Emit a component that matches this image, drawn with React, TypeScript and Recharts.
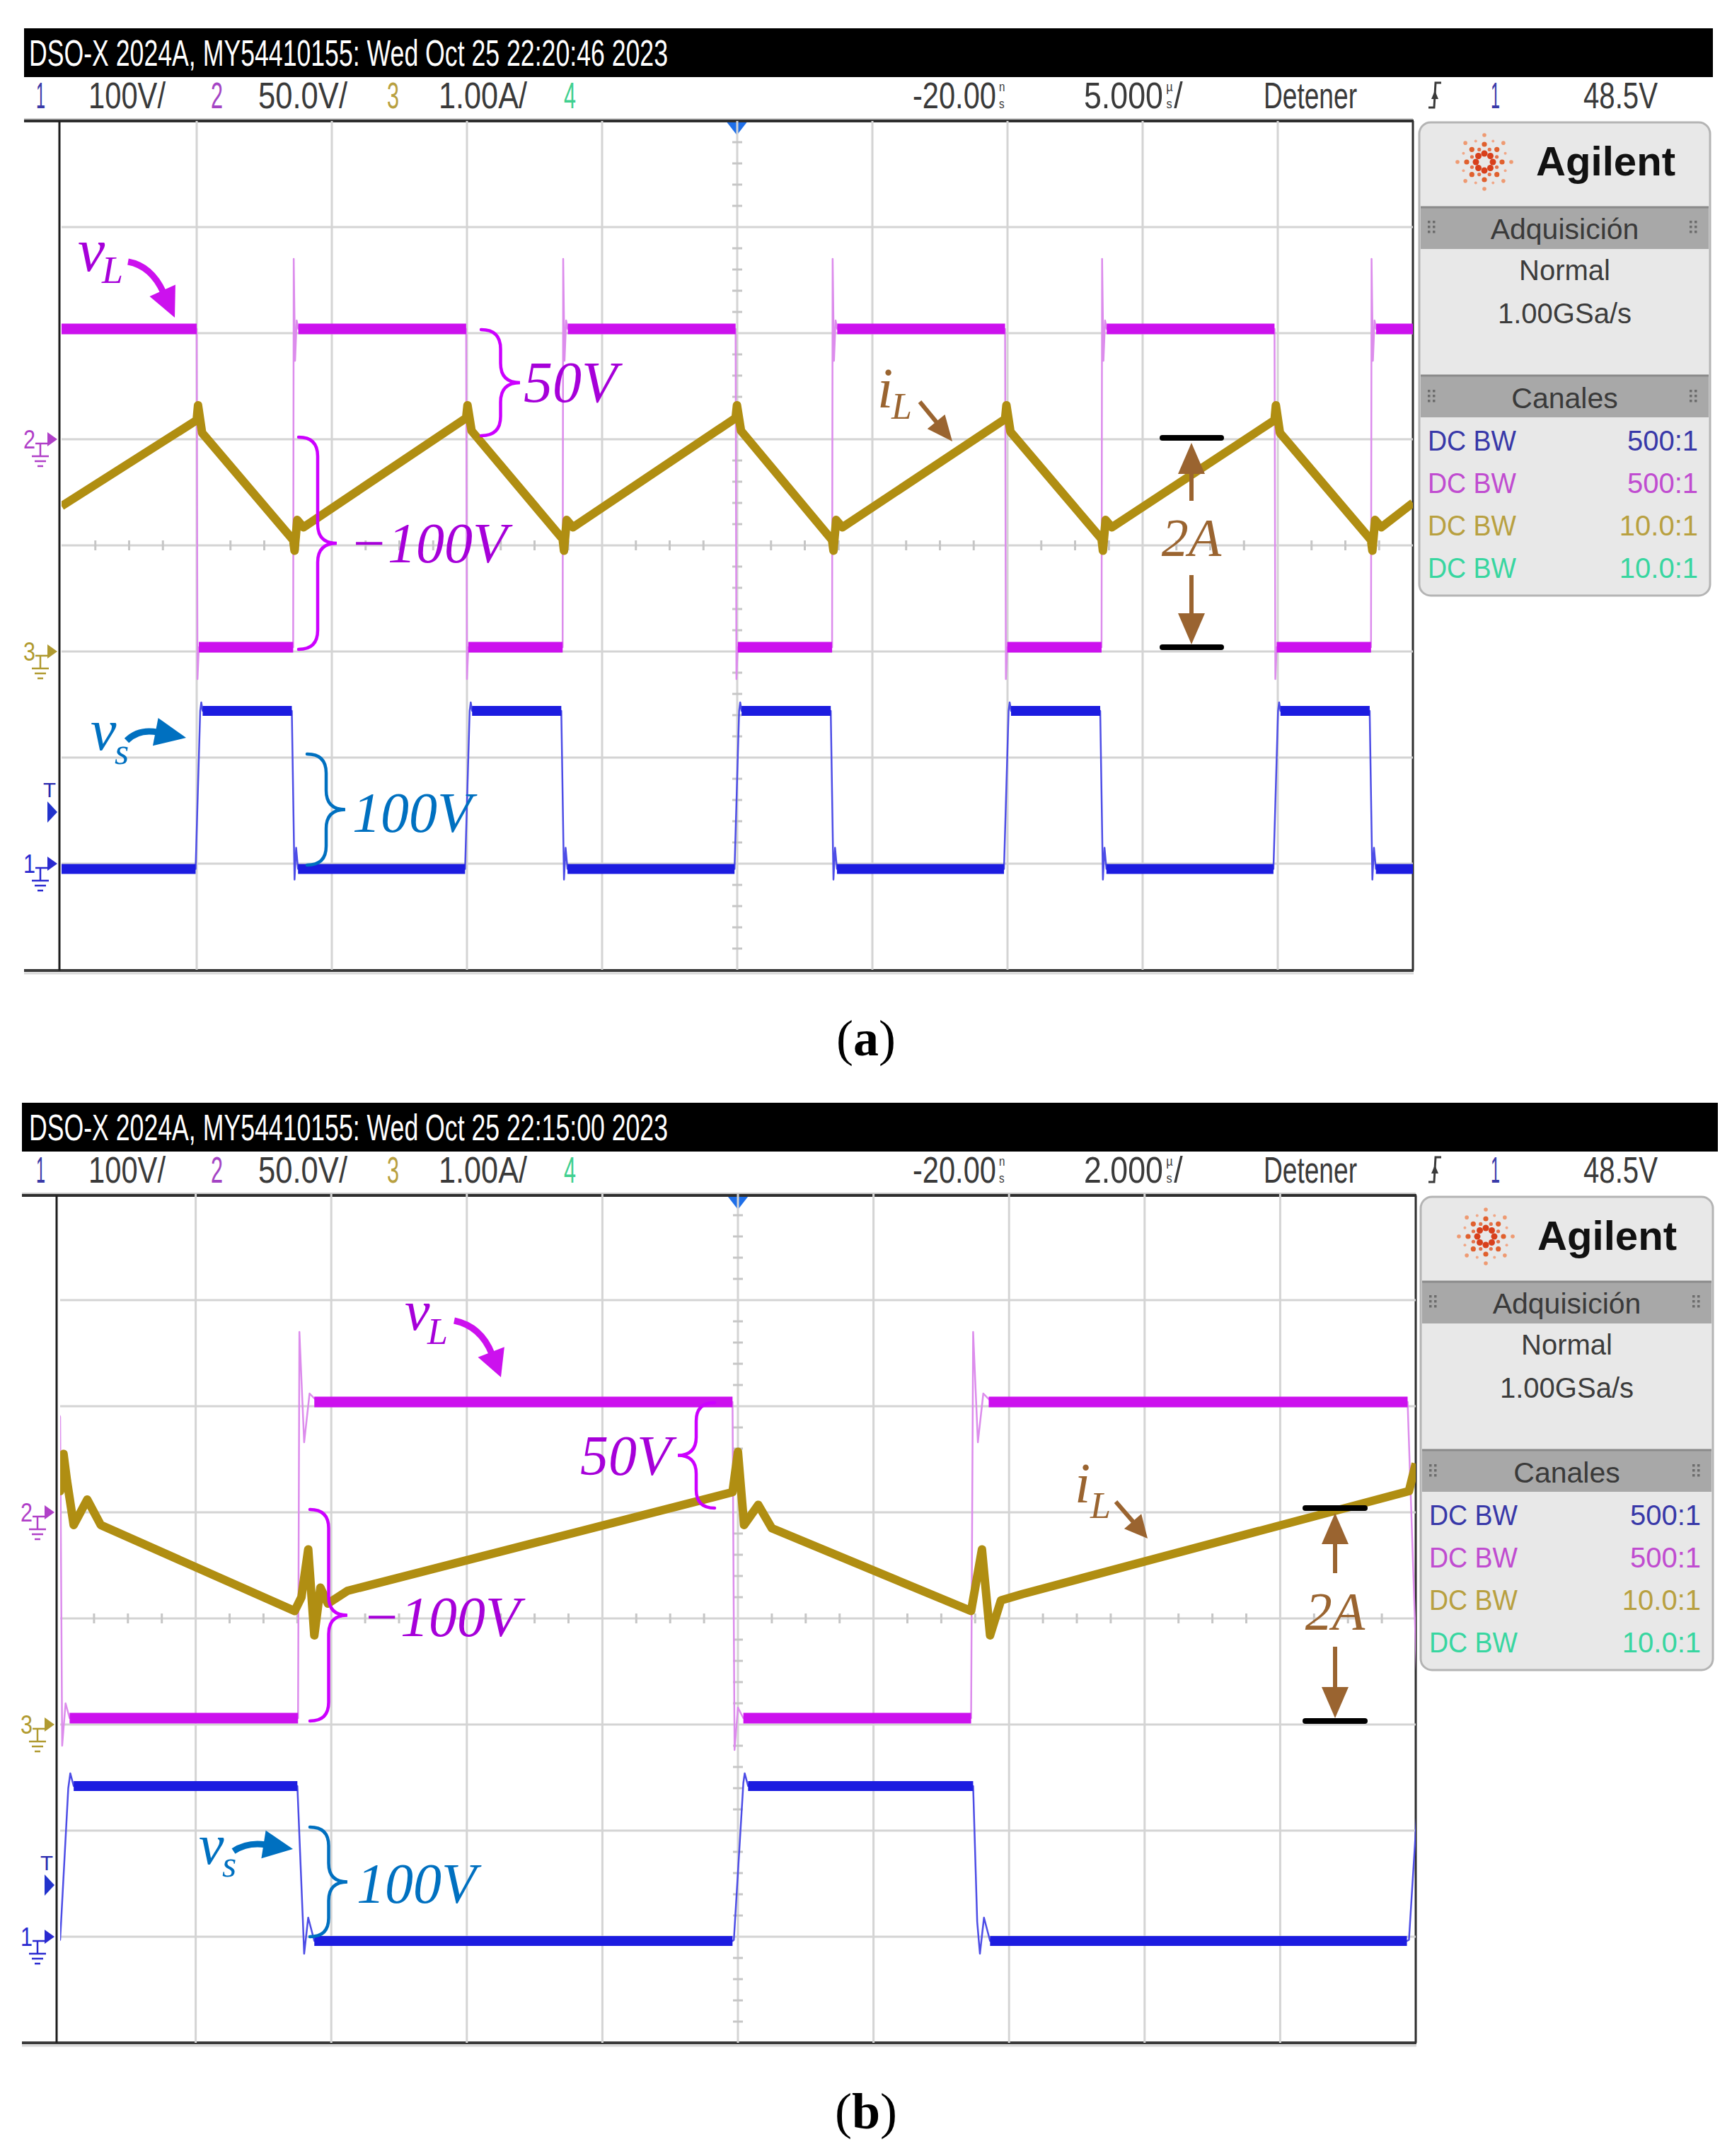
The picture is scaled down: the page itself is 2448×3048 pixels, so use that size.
import React from "react";
import { LineChart, Line, XAxis, YAxis, ReferenceLine } from "recharts";

// screen position of each channel: ground level (divisions from bottom) and units per division
// index 0 = ch1 vs (V), 1 = ch2 vL (V), 2 = ch3 iL (A)
const CH_GROUND_DIV = [1, 5, 3];
const CH_PER_DIV = [100, 50, 1];

// ---------- (a) 5 µs/div, 0..50 µs ----------
const A_VL: [number, number][] = [
  [0, 52],
  [5.0, 52], [5.03, -113], [5.08, -98], [8.57, -98], [8.59, 85], [8.64, 37], [8.7, 56], [8.76, 52],
  [14.97, 52], [15.0, -113], [15.05, -98], [18.54, -98], [18.56, 85], [18.61, 37], [18.67, 56], [18.73, 52],
  [24.94, 52], [24.97, -113], [25.02, -98], [28.51, -98], [28.53, 85], [28.58, 37], [28.64, 56], [28.7, 52],
  [34.91, 52], [34.94, -113], [34.99, -98], [38.48, -98], [38.5, 85], [38.55, 37], [38.61, 56], [38.67, 52],
  [44.88, 52], [44.91, -113], [44.96, -98], [48.45, -98], [48.47, 85], [48.52, 37], [48.58, 56], [48.64, 52],
  [50, 52],
];
const A_VL_FLAT: [number, number, number][] = [
  [0, 5.0, 52], [5.08, 8.57, -98], [8.76, 14.97, 52], [15.05, 18.54, -98], [18.73, 24.94, 52],
  [25.02, 28.51, -98], [28.7, 34.91, 52], [34.99, 38.48, -98], [38.67, 44.88, 52], [44.96, 48.45, -98],
  [48.64, 50, 52],
];
const A_VS: [number, number][] = [
  [0, -5],
  [4.96, -5], [5.13, 144], [5.17, 152], [5.22, 144], [8.52, 144], [8.62, -15], [8.68, 15], [8.75, -5],
  [14.93, -5], [15.1, 144], [15.14, 152], [15.19, 144], [18.49, 144], [18.59, -15], [18.65, 15], [18.72, -5],
  [24.9, -5], [25.07, 144], [25.11, 152], [25.16, 144], [28.46, 144], [28.56, -15], [28.62, 15], [28.69, -5],
  [34.87, -5], [35.04, 144], [35.08, 152], [35.13, 144], [38.43, 144], [38.53, -15], [38.59, 15], [38.66, -5],
  [44.84, -5], [45.01, 144], [45.05, 152], [45.1, 144], [48.4, 144], [48.5, -15], [48.56, 15], [48.63, -5],
  [50, -5],
];
const A_VS_FLAT: [number, number, number][] = [
  [0, 4.96, -5], [5.22, 8.52, 144], [8.75, 14.93, -5], [15.19, 18.49, 144], [18.72, 24.9, -5],
  [25.16, 28.46, 144], [28.69, 34.87, -5], [35.13, 38.43, 144], [38.66, 44.84, -5], [45.1, 48.4, 144],
  [48.63, 50, -5],
];
const A_IL: [number, number][] = [
  [0, 1.37],
  [5.0, 2.18], [5.05, 2.32], [5.2, 2.06], [8.57, 1.05], [8.62, 0.95], [8.72, 1.24], [8.95, 1.17],
  [14.97, 2.2], [15.02, 2.32], [15.17, 2.08], [18.54, 1.06], [18.59, 0.95], [18.69, 1.24], [18.92, 1.17],
  [24.94, 2.2], [24.99, 2.32], [25.14, 2.08], [28.51, 1.05], [28.56, 0.95], [28.66, 1.24], [28.89, 1.17],
  [34.91, 2.19], [34.96, 2.32], [35.11, 2.07], [38.48, 1.06], [38.53, 0.95], [38.63, 1.24], [38.86, 1.17],
  [44.88, 2.18], [44.93, 2.32], [45.08, 2.06], [48.45, 1.05], [48.5, 0.95], [48.6, 1.24], [48.83, 1.17],
  [50, 1.4],
];

// ---------- (b) 2 µs/div, 0..20 µs ----------
const B_VL: [number, number][] = [
  [-0.1, 52], [0.0, 45], [0.03, -110], [0.08, -90], [0.14, -97], [3.51, -97], [3.53, 85], [3.6, 33],
  [3.68, 56], [3.8, 52], [9.92, 52], [9.95, -112], [10.0, -92], [10.08, -97], [13.44, -97], [13.47, 85],
  [13.54, 33], [13.62, 56], [13.74, 52], [19.88, 52], [20.05, -110],
];
const B_VL_FLAT: [number, number, number][] = [
  [0.14, 3.51, -97], [3.75, 9.92, 52], [10.08, 13.44, -97], [13.7, 19.88, 52],
];
const B_VS: [number, number][] = [
  [-0.1, -3], [0.0, -3], [0.12, 140], [0.15, 154], [0.2, 142], [3.5, 142], [3.58, 17], [3.6, -16],
  [3.66, 18], [3.75, -4], [9.92, -4], [9.94, -3], [10.08, 145], [10.1, 154], [10.15, 142], [13.47, 142],
  [13.53, 14], [13.57, -16], [13.63, 18], [13.72, -4], [19.87, -4], [19.9, -3], [20.05, 150],
];
const B_VS_FLAT: [number, number, number][] = [
  [0.2, 3.5, 142], [3.75, 9.92, -4], [10.15, 13.47, 142], [13.72, 19.87, -4],
];
const B_IL: [number, number][] = [
  [-0.1, 2.2], [0.0, 2.2], [0.05, 2.55], [0.1, 2.3], [0.2, 1.88], [0.4, 2.12], [0.6, 1.88], [3.46, 1.07],
  [3.56, 1.2], [3.66, 1.65], [3.75, 0.84], [3.84, 1.29], [3.95, 1.14], [4.24, 1.26], [9.92, 2.19],
  [10.0, 2.57], [10.09, 1.88], [10.3, 2.07], [10.5, 1.85], [13.44, 1.07], [13.6, 1.65], [13.72, 0.84],
  [13.88, 1.17], [14.2, 1.23], [19.9, 2.2], [20.0, 2.46],
];

const CH_ROW_LABELS = ["DC BW", "DC BW", "DC BW", "DC BW"];
const CH_ROW_PROBES = ["500:1", "500:1", "10.0:1", "10.0:1"];

const toDiv = (pts: [number, number][], ch: number) =>
  pts.map(([t, v]) => ({ t, y: CH_GROUND_DIV[ch] + v / CH_PER_DIV[ch] }));

const flatRows = (segs: [number, number, number][], ch: number) =>
  segs.flatMap(([t0, t1, v]) => {
    const y = CH_GROUND_DIV[ch] + v / CH_PER_DIV[ch];
    return [{ t: t0, y }, { t: t1, y }, { t: t1, y: null }];
  });

const MAGENTA = "#cc11ee";
const MAGENTA_EDGE = "#dc8cec";
const BLUE = "#1c1ce0";
const BLUE_EDGE = "#4d4de6";
const OLIVE = "#b08e12";

const ANN_PURPLE = "#a600d9";
const ANN_BRACE = "#cc00ff";
const ANN_BLUE = "#0070c0";
const ANN_BROWN = "#9a6430";

const UI_FONT = "Liberation Sans, Arial, sans-serif";
const SERIF = "Liberation Serif, Times New Roman, serif";

interface TraceDef {
  data: { t: number; y: number | null }[];
  color: string;
  width: number;
}

function ScopeChart({ left, top, width, height, tMax, traces }: {
  left: number; top: number; width: number; height: number; tMax: number; traces: TraceDef[];
}) {
  const step = tMax / 10;
  const xGrid = [1, 2, 3, 4, 5, 6, 7, 8, 9].map((k) => k * step);
  const yGrid = [1, 2, 3, 4, 5, 6, 7];
  const xMinor: number[] = [];
  for (let k = 1; k < 40; k++) if (k % 4 !== 0) xMinor.push((k * tMax) / 40);
  const yMinor: number[] = [];
  for (let k = 1; k < 40; k++) if (k % 5 !== 0) yMinor.push(k / 5);
  const tickH = 7 / (height / 8);
  const tickW = (7 / width) * tMax;
  const mid = tMax / 2;
  return (
    <div style={{ position: "absolute", left, top, zIndex: 1 }}>
      <LineChart width={width} height={height} margin={{ top: 0, right: 0, bottom: 0, left: 0 }}>
        <XAxis type="number" dataKey="t" domain={[0, tMax]} hide allowDataOverflow />
        <YAxis type="number" domain={[0, 8]} hide allowDataOverflow />
        {xGrid.map((x) => (
          <ReferenceLine key={"gx" + x} x={x} stroke="#d4d4d4" strokeWidth={3} />
        ))}
        {yGrid.map((y) => (
          <ReferenceLine key={"gy" + y} y={y} stroke="#d4d4d4" strokeWidth={3} />
        ))}
        {xMinor.map((x) => (
          <ReferenceLine key={"mx" + x} segment={[{ x, y: 4 - tickH }, { x, y: 4 + tickH }]} stroke="#c6c6c6" strokeWidth={3} />
        ))}
        {yMinor.map((y) => (
          <ReferenceLine key={"my" + y} segment={[{ x: mid - tickW, y }, { x: mid + tickW, y }]} stroke="#c6c6c6" strokeWidth={3} />
        ))}
        {traces.map((tr, i) => (
          <Line
            key={"tr" + i}
            data={tr.data}
            dataKey="y"
            type="linear"
            stroke={tr.color}
            strokeWidth={tr.width}
            strokeLinejoin="round"
            dot={false}
            activeDot={false}
            connectNulls={false}
            isAnimationActive={false}
          />
        ))}
      </LineChart>
    </div>
  );
}

function Squeezed({ x, y, w, size, color, children, anchor }: any) {
  return (
    <text x={x} y={y} fontSize={size} fill={color} fontFamily={UI_FONT} textLength={w}
      lengthAdjust="spacingAndGlyphs" textAnchor={anchor || "start"}>
      {children}
    </text>
  );
}

// time field with a small stacked unit prefix over "s", drawn as one condensed text
function TimeField({ x, y, sx, value, prefix, slash, color }: any) {
  return (
    <g transform={`translate(${x} ${y}) scale(${sx} 1)`}>
      <text x={0} y={0} fontSize={52} fill={color} fontFamily={UI_FONT}>
        {value}
        <tspan fontSize={19} dx={5} dy={-24}>{prefix}</tspan>
        <tspan fontSize={19} dx={-10.5} dy={24}>s</tspan>
        {slash ? <tspan fontSize={52} dx={3}>/</tspan> : null}
      </text>
    </g>
  );
}

function Grip({ x, y }: { x: number; y: number }) {
  const out = [];
  for (let r = 0; r < 3; r++)
    for (let c = 0; c < 2; c++)
      out.push(<rect key={r + "-" + c} x={x + c * 7} y={y + r * 7} width={3.5} height={3.5} fill="#6c6c6c" />);
  return <g>{out}</g>;
}

function Spark({ cx, cy }: { cx: number; cy: number }) {
  const dots = [];
  for (let k = 0; k < 8; k++) {
    const a = (k * Math.PI) / 4;
    const rings = [[12, 4.5, "#d8401c"], [25, 3.6, "#e0602e"], [38, 2.8, "#ee9a72"]] as [number, number, string][];
    rings.forEach(([r, s, c], j) =>
      dots.push(<circle key={k + "m" + j} cx={cx + r * Math.cos(a)} cy={cy + r * Math.sin(a)} r={s} fill={c} />)
    );
    const b = a + Math.PI / 8;
    dots.push(<circle key={k + "h"} cx={cx + 19 * Math.cos(b)} cy={cy + 19 * Math.sin(b)} r={2.6} fill="#e4724a" />);
    dots.push(<circle key={k + "o"} cx={cx + 32 * Math.cos(b)} cy={cy + 32 * Math.sin(b)} r={2} fill="#f0a888" />);
  }
  return <g>{dots}</g>;
}

function ChMarker({ x, y, label, color }: { x: number; y: number; label: string; color: string }) {
  return (
    <g>
      <Squeezed x={x - 48} y={y + 13} w={17} size={36} color={color}>{label}</Squeezed>
      <polygon points={`${x - 14},${y - 10} ${x},${y} ${x - 14},${y + 10}`} fill={color} />
      <path
        d={`M${x - 31} ${y + 6} H${x - 14} M${x - 24} ${y + 6} V${y + 24} M${x - 36} ${y + 24} H${x - 12} M${x - 32} ${y + 31} H${x - 16} M${x - 28} ${y + 38} H${x - 20}`}
        stroke={color} strokeWidth={2.5} fill="none"
      />
    </g>
  );
}

function Frame({ dy, barL, barR, plotL, plotR, plotTop, plotBottom, gridTop, centerX, panelL, panelR, stamp, timebase }: any) {
  const grey = "#3a3a3a";
  const pTop = 173 + dy;
  const pCx = (panelL + panelR) / 2;
  const rowColors = ["#3838a8", "#c04cd0", "#b8a040", "#38d6a0"];
  const rowBase = [637, 697, 757, 817];
  return (
    <g>
      <rect x={barL} y={40 + dy} width={barR - barL} height={69} fill="#000" />
      <Squeezed x={41} y={93 + dy} w={903} size={52} color="#fff">{stamp}</Squeezed>

      <Squeezed x={51} y={153 + dy} w={13} size={52} color="#3a3aa8">1</Squeezed>
      <Squeezed x={125} y={153 + dy} w={109} size={52} color={grey}>100V/</Squeezed>
      <Squeezed x={298} y={153 + dy} w={17} size={52} color="#a444c4">2</Squeezed>
      <Squeezed x={365} y={153 + dy} w={126} size={52} color={grey}>50.0V/</Squeezed>
      <Squeezed x={547} y={153 + dy} w={17} size={52} color="#b8a040">3</Squeezed>
      <Squeezed x={620} y={153 + dy} w={125} size={52} color={grey}>1.00A/</Squeezed>
      <Squeezed x={797} y={153 + dy} w={17} size={52} color="#40d090">4</Squeezed>
      <TimeField x={1290} y={153 + dy} sx={0.8} value="-20.00" prefix="n" slash={false} color={grey} />
      <TimeField x={1532} y={153 + dy} sx={0.86} value={timebase} prefix="µ" slash={true} color={grey} />
      <Squeezed x={1786} y={153 + dy} w={132} size={52} color={grey}>Detener</Squeezed>
      <path d={`M2019 ${152 + dy} H2027 L2029 ${117 + dy} H2037`} stroke={grey} strokeWidth={3} fill="none" />
      <polygon points={`2023,${140 + dy} 2028,${128 + dy} 2033,${140 + dy}`} fill={grey} />
      <Squeezed x={2107} y={153 + dy} w={13} size={52} color="#3a3aa8">1</Squeezed>
      <Squeezed x={2238} y={153 + dy} w={105} size={52} color={grey}>48.5V</Squeezed>

      {/* plot frame */}
      <line x1={barL} x2={plotR} y1={plotTop - 3} y2={plotTop - 3} stroke="#cfcfcf" strokeWidth={2} />
      <line x1={barL} x2={plotR + 1} y1={plotTop} y2={plotTop} stroke="#2e2e2e" strokeWidth={4} />
      <line x1={barL} x2={plotR + 1} y1={plotBottom} y2={plotBottom} stroke="#3a3a3a" strokeWidth={4} />
      <line x1={barL} x2={plotR + 1} y1={plotBottom + 4} y2={plotBottom + 4} stroke="#d8d8d8" strokeWidth={3} />
      <line x1={plotL} x2={plotL} y1={plotTop} y2={plotBottom} stroke="#1e1e1e" strokeWidth={3} />
      <line x1={plotR} x2={plotR} y1={plotTop} y2={plotBottom} stroke="#2e2e2e" strokeWidth={3} />
      <polygon points={`${centerX - 14},${plotTop + 2} ${centerX + 14},${plotTop + 2} ${centerX},${plotTop + 20}`} fill="#1f6fe8" />

      {/* channel ground markers and trigger level */}
      <ChMarker x={plotL - 3} y={gridTop + 450} label="2" color="#b040c8" />
      <ChMarker x={plotL - 3} y={gridTop + 750} label="3" color="#b09a30" />
      <ChMarker x={plotL - 3} y={gridTop + 1050} label="1" color="#2a2ad0" />
      <Squeezed x={plotL - 14} y={gridTop + 956} w={18} size={30} color="#2a2ab0" anchor="middle">T</Squeezed>
      <polygon points={`${plotL - 17},${gridTop + 962} ${plotL - 3},${gridTop + 977} ${plotL - 17},${gridTop + 992}`} fill="#2233cc" />

      {/* side panel */}
      <rect x={panelL} y={pTop} width={panelR - panelL} height={669} rx={16} fill="#e8e8e8" stroke="#b4b4b4" strokeWidth={3} />
      <rect x={panelL + 2} y={pTop + 119} width={panelR - panelL - 4} height={60} fill="#a8a8a8" />
      <line x1={panelL + 2} x2={panelR - 2} y1={pTop + 120} y2={pTop + 120} stroke="#8a8a8a" strokeWidth={3} />
      <rect x={panelL + 2} y={pTop + 357} width={panelR - panelL - 4} height={60} fill="#a8a8a8" />
      <line x1={panelL + 2} x2={panelR - 2} y1={pTop + 358} y2={pTop + 358} stroke="#8a8a8a" strokeWidth={3} />
      <Spark cx={panelL + 92} cy={229 + dy} />
      <text x={panelL + 165} y={248 + dy} fontSize={58} fontWeight="bold" fill="#111" fontFamily={UI_FONT}
        textLength={197} lengthAdjust="spacingAndGlyphs">Agilent</text>
      <text x={pCx} y={338 + dy} fontSize={41} fill="#3a3a3a" fontFamily={UI_FONT} textAnchor="middle">Adquisición</text>
      <Grip x={panelL + 12} y={312 + dy} />
      <Grip x={panelR - 29} y={312 + dy} />
      <text x={pCx} y={396 + dy} fontSize={40} fill="#3c3c3c" fontFamily={UI_FONT} textAnchor="middle">Normal</text>
      <text x={pCx} y={457 + dy} fontSize={40} fill="#3c3c3c" fontFamily={UI_FONT} textAnchor="middle">1.00GSa/s</text>
      <text x={pCx} y={577 + dy} fontSize={41} fill="#3a3a3a" fontFamily={UI_FONT} textAnchor="middle">Canales</text>
      <Grip x={panelL + 12} y={551 + dy} />
      <Grip x={panelR - 29} y={551 + dy} />
      {CH_ROW_LABELS.map((lab, i) => (
        <g key={"row" + i}>
          <Squeezed x={panelL + 12} y={rowBase[i] + dy} w={125} size={40} color={rowColors[i]}>{lab}</Squeezed>
          <text x={panelR - 17} y={rowBase[i] + dy} fontSize={40} fill={rowColors[i]} fontFamily={UI_FONT}
            textAnchor="end">{CH_ROW_PROBES[i]}</text>
        </g>
      ))}
    </g>
  );
}

function Brace({ x, y1, y2, w, dir, color }: any) {
  const xs = x + (dir * w) / 2;
  const xt = x + dir * w;
  const ym = (y1 + y2) / 2;
  const r = Math.min(w / 2, (y2 - y1) / 5);
  const d = `M${x} ${y1} Q${xs} ${y1} ${xs} ${y1 + r} L${xs} ${ym - r} Q${xs} ${ym} ${xt} ${ym} Q${xs} ${ym} ${xs} ${ym + r} L${xs} ${y2 - r} Q${xs} ${y2} ${x} ${y2}`;
  return <path d={d} stroke={color} strokeWidth={4.5} fill="none" strokeLinecap="round" />;
}

function Arrow({ x1, y1, cx, cy, x2, y2, color, w, hl, hw }: any) {
  const fx = cx !== undefined ? cx : x1;
  const fy = cy !== undefined ? cy : y1;
  const dx = x2 - fx;
  const dyy = y2 - fy;
  const len = Math.hypot(dx, dyy);
  const ux = dx / len;
  const uy = dyy / len;
  const bx = x2 - ux * hl;
  const by = y2 - uy * hl;
  const px = -uy;
  const py = ux;
  const d = cx !== undefined ? `M${x1} ${y1} Q${cx} ${cy} ${bx + ux * 3} ${by + uy * 3}` : `M${x1} ${y1} L${bx + ux * 3} ${by + uy * 3}`;
  return (
    <g>
      <path d={d} stroke={color} strokeWidth={w} fill="none" />
      <polygon points={`${x2},${y2} ${bx + (px * hw) / 2},${by + (py * hw) / 2} ${bx - (px * hw) / 2},${by - (py * hw) / 2}`} fill={color} />
    </g>
  );
}

function Sym({ x, y, main, sub, size, subSize, color, subDx, subDy }: any) {
  return (
    <g fontFamily={SERIF} fontStyle="italic" fill={color}>
      <text x={x} y={y} fontSize={size}>{main}</text>
      <text x={x + subDx} y={y + subDy} fontSize={subSize}>{sub}</text>
    </g>
  );
}

function Label({ x, y, text, color, size }: any) {
  return (
    <text x={x} y={y} fontFamily={SERIF} fontStyle="italic" fontSize={size} fill={color}>{text}</text>
  );
}

function DimMark({ x, x1, x2, yTop, yBot, upTail, downTail, textY }: any) {
  return (
    <g>
      <line x1={x1} x2={x2} y1={yTop} y2={yTop} stroke="#000" strokeWidth={8} strokeLinecap="round" />
      <line x1={x1} x2={x2} y1={yBot} y2={yBot} stroke="#000" strokeWidth={8} strokeLinecap="round" />
      <Arrow x1={x} y1={upTail} x2={x} y2={yTop + 7} color={ANN_BROWN} w={6} hl={44} hw={38} />
      <Arrow x1={x} y1={downTail} x2={x} y2={yBot - 4} color={ANN_BROWN} w={6} hl={44} hw={38} />
      <text x={x} y={textY} fontFamily={SERIF} fontStyle="italic" fontSize={76} fill={ANN_BROWN} textAnchor="middle">2A</text>
    </g>
  );
}

export default function App() {
  const tracesA: TraceDef[] = [
    { data: toDiv(A_VL, 1), color: MAGENTA_EDGE, width: 2.5 },
    { data: toDiv(A_VS, 0), color: BLUE_EDGE, width: 2.5 },
    { data: flatRows(A_VS_FLAT, 0), color: BLUE, width: 14 },
    { data: flatRows(A_VL_FLAT, 1), color: MAGENTA, width: 15 },
    { data: toDiv(A_IL, 2), color: OLIVE, width: 12 },
  ];
  const tracesB: TraceDef[] = [
    { data: toDiv(B_VL, 1), color: MAGENTA_EDGE, width: 2.5 },
    { data: toDiv(B_VS, 0), color: BLUE_EDGE, width: 2.5 },
    { data: flatRows(B_VS_FLAT, 0), color: BLUE, width: 14 },
    { data: flatRows(B_VL_FLAT, 1), color: MAGENTA, width: 15 },
    { data: toDiv(B_IL, 2), color: OLIVE, width: 12 },
  ];

  return (
    <div style={{ position: "absolute", left: 0, top: 0, width: 2448, height: 3048, background: "#fff", overflow: "hidden" }}>
      <svg width={2448} height={3048} style={{ position: "absolute", left: 0, top: 0, zIndex: 0 }}>
        <Frame dy={0} barL={34} barR={2421} plotL={84} plotR={1997} plotTop={171} plotBottom={1372} gridTop={171}
          centerX={1041.5} panelL={2006} panelR={2417} stamp="DSO-X 2024A, MY54410155: Wed Oct 25 22:20:46 2023" timebase="5.000" />
        <Frame dy={1519} barL={31} barR={2428} plotL={80} plotR={2001} plotTop={1690} plotBottom={2888} gridTop={1688}
          centerX={1043} panelL={2008} panelR={2421} stamp="DSO-X 2024A, MY54410155: Wed Oct 25 22:15:00 2023" timebase="2.000" />
        <text x={1224} y={1492} textAnchor="middle" fontFamily={SERIF} fontSize={72} fill="#000">
          (<tspan fontWeight="bold">a</tspan>)
        </text>
        <text x={1224} y={3009} textAnchor="middle" fontFamily={SERIF} fontSize={72} fill="#000">
          (<tspan fontWeight="bold">b</tspan>)
        </text>
      </svg>

      <ScopeChart left={86.5} top={171} width={1910} height={1200} tMax={50} traces={tracesA} />
      <ScopeChart left={85} top={1688} width={1916} height={1200} tMax={20} traces={tracesB} />

      <svg width={2448} height={3048} style={{ position: "absolute", left: 0, top: 0, zIndex: 2, pointerEvents: "none" }}>
        {/* (a) annotations */}
        <Sym x={110} y={383} main="v" sub="L" size={86} subSize={54} color={ANN_PURPLE} subDx={34} subDy={17} />
        <Arrow x1={181} y1={370} cx={214} cy={376} x2={247} y2={449} color={MAGENTA} w={9} hl={42} hw={40} />
        <Brace x={680} y1={466} y2={616} w={55} dir={1} color={ANN_BRACE} />
        <Label x={740} y={568} text="50V" color={ANN_PURPLE} size={82} />
        <Brace x={422} y1={618} y2={918} w={54} dir={1} color={ANN_BRACE} />
        <Label x={494} y={795} text="−100V" color={ANN_PURPLE} size={80} />
        <Sym x={1240} y={576} main="i" sub="L" size={80} subSize={52} color={ANN_BROWN} subDx={20} subDy={16} />
        <Arrow x1={1300} y1={568} x2={1346} y2={624} color={ANN_BROWN} w={6} hl={36} hw={32} />
        <DimMark x={1684} x1={1643} x2={1726} yTop={619} yBot={915} upTail={708} downTail={813} textY={786} />
        <Sym x={128} y={1060} main="v" sub="s" size={82} subSize={52} color={ANN_BLUE} subDx={34} subDy={20} />
        <Arrow x1={179} y1={1047} cx={196} cy={1030} x2={263} y2={1043} color={ANN_BLUE} w={9} hl={44} hw={40} />
        <Brace x={434} y1={1066} y2={1223} w={54} dir={1} color={ANN_BLUE} />
        <Label x={498} y={1176} text="100V" color={ANN_BLUE} size={80} />

        {/* (b) annotations */}
        <Sym x={572} y={1880} main="v" sub="L" size={80} subSize={52} color={ANN_PURPLE} subDx={32} subDy={20} />
        <Arrow x1={642} y1={1867} cx={680} cy={1875} x2={708} y2={1947} color={MAGENTA} w={9} hl={38} hw={40} />
        <Brace x={1010} y1={1983} y2={2132} w={52} dir={-1} color={ANN_BRACE} />
        <Label x={820} y={2085} text="50V" color={ANN_PURPLE} size={80} />
        <Brace x={438} y1={2134} y2={2433} w={53} dir={1} color={ANN_BRACE} />
        <Label x={512} y={2313} text="−100V" color={ANN_PURPLE} size={80} />
        <Sym x={1519} y={2124} main="i" sub="L" size={80} subSize={52} color={ANN_BROWN} subDx={22} subDy={22} />
        <Arrow x1={1577} y1={2123} x2={1622} y2={2175} color={ANN_BROWN} w={6} hl={32} hw={32} />
        <DimMark x={1887} x1={1845} x2={1929} yTop={2132} yBot={2433} upTail={2224} downTail={2328} textY={2304} />
        <Sym x={281} y={2635} main="v" sub="s" size={80} subSize={52} color={ANN_BLUE} subDx={33} subDy={18} />
        <Arrow x1={330} y1={2617} cx={350} cy={2604} x2={414} y2={2614} color={ANN_BLUE} w={9} hl={42} hw={40} />
        <Brace x={438} y1={2583} y2={2738} w={53} dir={1} color={ANN_BLUE} />
        <Label x={504} y={2690} text="100V" color={ANN_BLUE} size={80} />
      </svg>
    </div>
  );
}
